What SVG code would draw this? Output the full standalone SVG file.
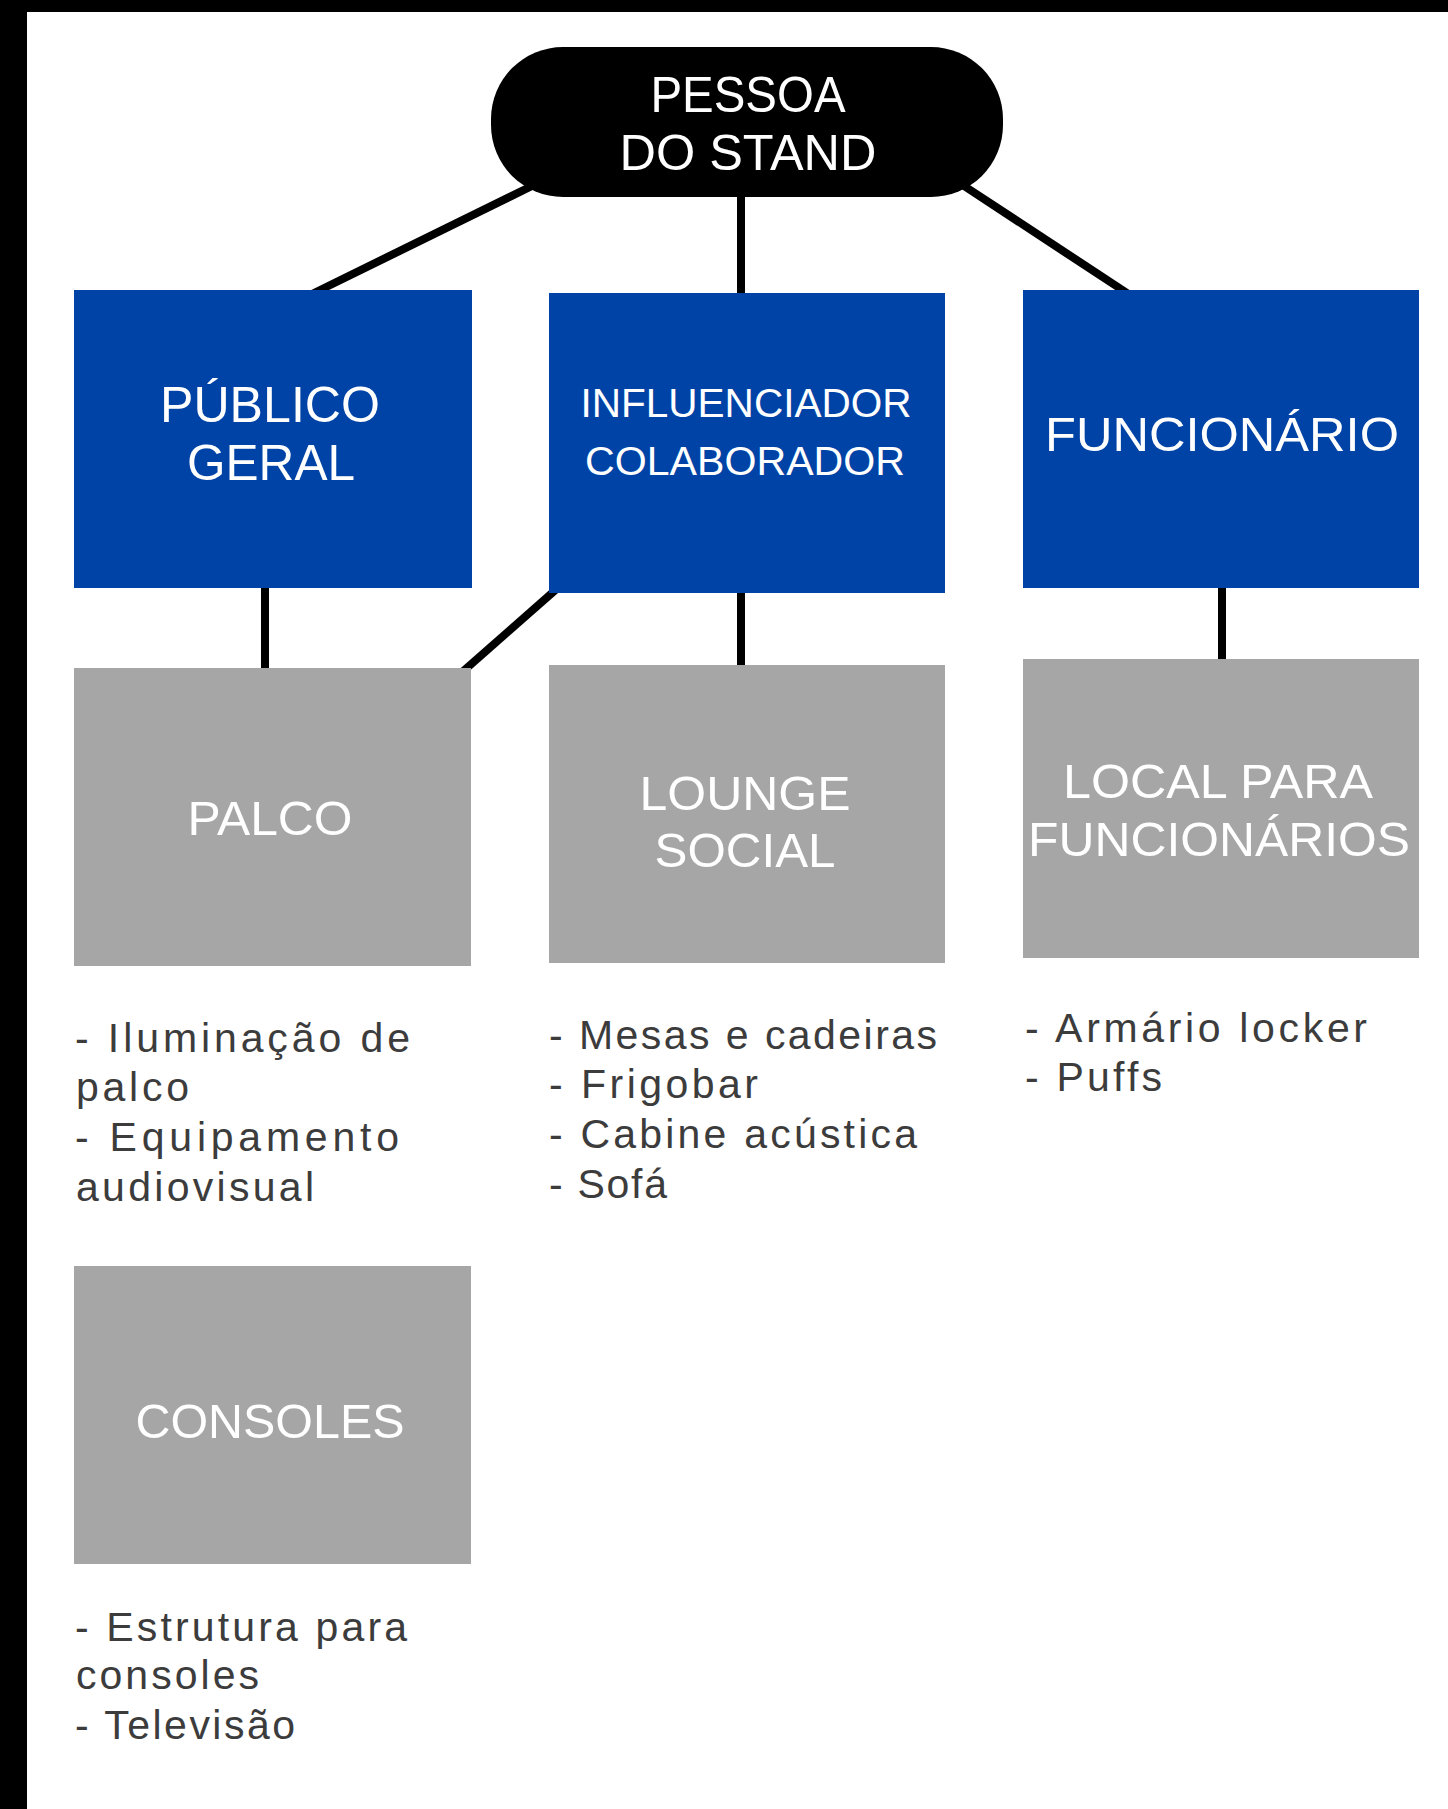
<svg xmlns="http://www.w3.org/2000/svg" width="1448" height="1809" viewBox="0 0 1448 1809">
<style>
.bg{fill:#ffffff}
.frame{fill:#000000}
.root{fill:#000000}
.blue{fill:#0043a6}
.gray{fill:#a6a6a6}
.lbl{font-family:"Liberation Sans",Arial,sans-serif;fill:#ffffff;text-anchor:middle}
.desc{font-family:"Liberation Sans",Arial,sans-serif;fill:#3c3c3c;font-size:41px}
.conn{stroke:#000000;stroke-width:8;fill:none}
</style>
<rect class="bg" x="0" y="0" width="1448" height="1809"/>
<rect class="frame" x="0" y="0" width="1448" height="12"/>
<rect class="frame" x="0" y="0" width="27" height="1809"/>
<g id="connectors">
<line class="conn" x1="540" y1="182" x2="310" y2="295"/>
<line class="conn" x1="741" y1="190" x2="741" y2="297"/>
<line class="conn" x1="955" y1="180" x2="1130" y2="295"/>
<line class="conn" x1="265" y1="585" x2="265" y2="672"/>
<line class="conn" x1="560" y1="586" x2="460" y2="674"/>
<line class="conn" x1="741" y1="590" x2="741" y2="668"/>
<line class="conn" x1="1222" y1="585" x2="1222" y2="663"/>
</g>
<g id="pessoa">
<rect class="root" x="491" y="47" width="512" height="150" rx="72" ry="72"/>
<text class="lbl" font-size="50" x="748" y="112" textLength="195" lengthAdjust="spacingAndGlyphs">PESSOA</text>
<text class="lbl" font-size="50" x="748" y="170" textLength="257" lengthAdjust="spacingAndGlyphs">DO STAND</text>
</g>
<g id="publico">
<rect class="blue" x="74" y="290" width="398" height="298"/>
<text class="lbl" font-size="50" x="270" y="422" textLength="220" lengthAdjust="spacingAndGlyphs">PÚBLICO</text>
<text class="lbl" font-size="50" x="271" y="480" textLength="168" lengthAdjust="spacingAndGlyphs">GERAL</text>
</g>
<g id="influenciador">
<rect class="blue" x="549" y="293" width="396" height="300"/>
<text class="lbl" font-size="41" x="746" y="417" textLength="331" lengthAdjust="spacingAndGlyphs">INFLUENCIADOR</text>
<text class="lbl" font-size="41" x="745" y="475" textLength="320" lengthAdjust="spacingAndGlyphs">COLABORADOR</text>
</g>
<g id="funcionario">
<rect class="blue" x="1023" y="290" width="396" height="298"/>
<text class="lbl" font-size="49" x="1222" y="451" textLength="354" lengthAdjust="spacingAndGlyphs">FUNCIONÁRIO</text>
</g>
<g id="palco">
<rect class="gray" x="74" y="668" width="397" height="298"/>
<text class="lbl" font-size="49" x="270" y="835" textLength="165" lengthAdjust="spacingAndGlyphs">PALCO</text>
</g>
<g id="lounge">
<rect class="gray" x="549" y="665" width="396" height="298"/>
<text class="lbl" font-size="49" x="745" y="810" textLength="211" lengthAdjust="spacingAndGlyphs">LOUNGE</text>
<text class="lbl" font-size="49" x="745" y="867" textLength="181" lengthAdjust="spacingAndGlyphs">SOCIAL</text>
</g>
<g id="local">
<rect class="gray" x="1023" y="659" width="396" height="299"/>
<text class="lbl" font-size="49" x="1218" y="798" textLength="310" lengthAdjust="spacingAndGlyphs">LOCAL PARA</text>
<text class="lbl" font-size="49" x="1219" y="856" textLength="382" lengthAdjust="spacingAndGlyphs">FUNCIONÁRIOS</text>
</g>
<g id="consoles">
<rect class="gray" x="74" y="1266" width="397" height="298"/>
<text class="lbl" font-size="49" x="270" y="1438" textLength="269" lengthAdjust="spacingAndGlyphs">CONSOLES</text>
</g>
<g id="palco-itens">
<text class="desc" x="75" y="1052" textLength="335" lengthAdjust="spacing">- Iluminação de</text>
<text class="desc" x="76" y="1101" textLength="113" lengthAdjust="spacing">palco</text>
<text class="desc" x="75" y="1151" textLength="324" lengthAdjust="spacing">- Equipamento</text>
<text class="desc" x="76" y="1201" textLength="238" lengthAdjust="spacing">audiovisual</text>
</g>
<g id="lounge-itens">
<text class="desc" x="549" y="1049" textLength="388" lengthAdjust="spacing">- Mesas e cadeiras</text>
<text class="desc" x="549" y="1098" textLength="209" lengthAdjust="spacing">- Frigobar</text>
<text class="desc" x="549" y="1148" textLength="368" lengthAdjust="spacing">- Cabine acústica</text>
<text class="desc" x="549" y="1198" textLength="118" lengthAdjust="spacing">- Sofá</text>
</g>
<g id="local-itens">
<text class="desc" x="1025" y="1042" textLength="342" lengthAdjust="spacing">- Armário locker</text>
<text class="desc" x="1025" y="1091" textLength="137" lengthAdjust="spacing">- Puffs</text>
</g>
<g id="consoles-itens">
<text class="desc" x="75" y="1641" textLength="332" lengthAdjust="spacing">- Estrutura para</text>
<text class="desc" x="76" y="1689" textLength="183" lengthAdjust="spacing">consoles</text>
<text class="desc" x="75" y="1739" textLength="220" lengthAdjust="spacing">- Televisão</text>
</g>
</svg>
